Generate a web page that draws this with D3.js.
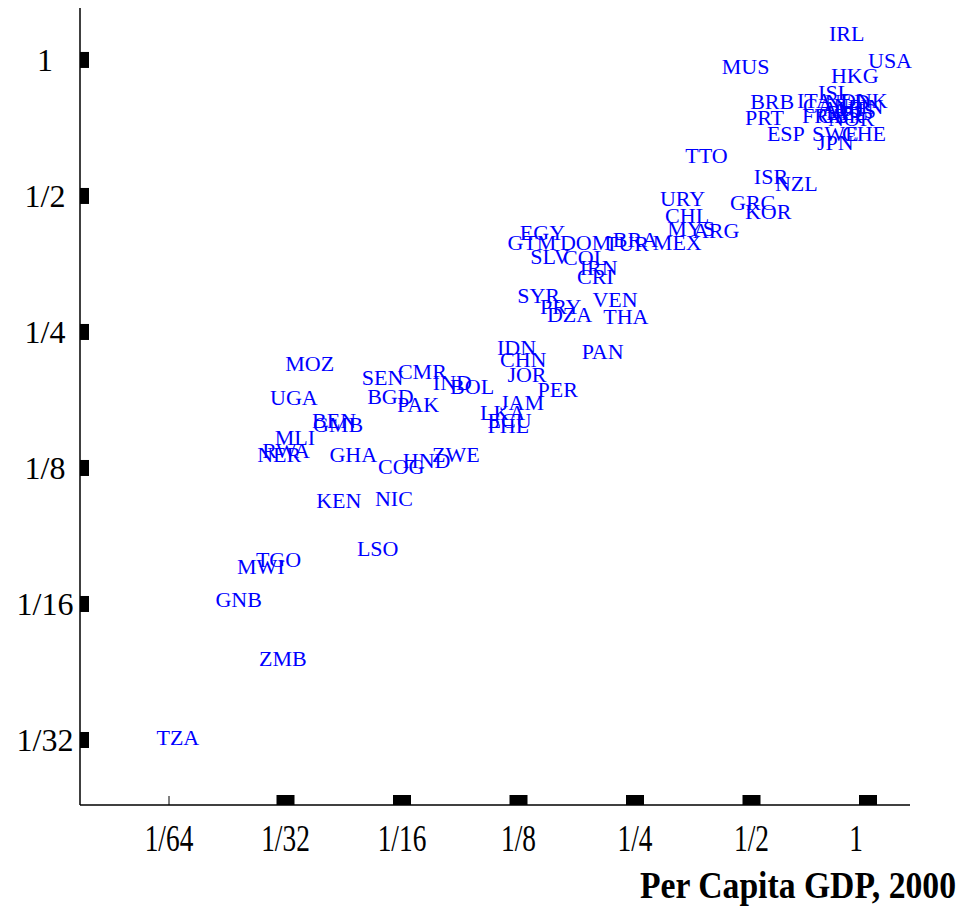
<!DOCTYPE html>
<html lang="en">
<head>
<meta charset="utf-8">
<title>Per Capita GDP, 2000</title>
<script src="https://d3js.org/d3.v7.min.js"></script>
<style>
  body { margin: 0; background: #fff; }
  .country { font-family: "Liberation Serif", "Times New Roman", serif; font-size: 22px; fill: #0000ff; }
  .ticklab { font-family: "Liberation Serif", "Times New Roman", serif; font-size: 32px; fill: #000; }
  .xlab { font-family: "Liberation Serif", "Times New Roman", serif; font-size: 38px; fill: #000; }
  .title { font-family: "Liberation Serif", "Times New Roman", serif; font-size: 38px; font-weight: bold; fill: #000; }
</style>
</head>
<body>
<script>
// country codes, per capita GDP 2000 (relative to US) and the vertical value
const codes = ["IRL","USA","HKG","MUS","BRB","ITA","ISL","CAN","NLD","DNK","AUS","AUT","BEL","FIN","FRA","GBR","NOR","PRT","ESP","SWE","CHE","JPN",
  "TTO","ISR","NZL","GRC","KOR","URY","CHL","MYS","ARG","MEX","BRA","TUR","DOM","EGY","GTM","SLV","COL","IRN","CRI",
  "SYR","PRY","DZA","VEN","THA","PAN","IDN","CHN","JOR","PER","JAM","LKA","ECU","PHL","BOL","IND","CMR","SEN","BGD","PAK",
  "MOZ","UGA","BEN","GMB","MLI","RWA","NER","GHA","HND","COG","ZWE","KEN","NIC","LSO","TGO","MWI","GNB","ZMB","TZA"];
const gdp2000 = [0.793,1.0,0.802,0.419,0.496,0.655,0.743,0.679,0.774,0.847,0.807,0.761,0.779,0.888,0.675,0.743,0.788,0.481,0.548,0.717,0.857,0.738,
  0.337,0.507,0.575,0.440,0.481,0.290,0.299,0.303,0.353,0.278,0.219,0.209,0.160,0.126,0.117,0.134,0.163,0.180,0.177,
  0.124,0.142,0.148,0.194,0.207,0.182,0.110,0.112,0.117,0.140,0.112,0.0994,0.104,0.104,0.0832,0.0751,0.0610,0.0492,0.0508,0.0607,
  0.0312,0.0285,0.0366,0.0368,0.0293,0.0272,0.0264,0.0406,0.0628,0.0542,0.0747,0.0375,0.0532,0.0478,0.0262,0.0234,0.0206,0.0267,0.0145];
const yValue = [1.148,1.0,0.926,0.970,0.811,0.816,0.850,0.795,0.811,0.816,0.775,0.783,0.767,0.791,0.756,0.756,0.744,0.748,0.689,0.689,0.689,0.658,
  0.616,0.553,0.534,0.485,0.463,0.495,0.454,0.423,0.420,0.395,0.400,0.392,0.394,0.416,0.394,0.368,0.365,0.347,0.332,
  0.302,0.285,0.273,0.296,0.271,0.227,0.231,0.217,0.202,0.187,0.175,0.166,0.159,0.155,0.190,0.193,0.205,0.198,0.180,0.173,
  0.213,0.179,0.159,0.156,0.146,0.137,0.134,0.134,0.130,0.126,0.134,0.106,0.107,0.0832,0.0786,0.0758,0.0640,0.0475,0.0317];

const xTicks = [1/64, 1/32, 1/16, 1/8, 1/4, 1/2, 1];
const xTickLabels = ["1/64","1/32","1/16","1/8","1/4","1/2","1"];
const yTicks = [1/32, 1/16, 1/8, 1/4, 1/2, 1];
const yTickLabels = ["1/32","1/16","1/8","1/4","1/2","1"];

const width = 965, height = 911;
const plotLeft = 80, plotRight = 910, plotTop = 8, plotBottom = 805;

const x = d3.scaleLog().base(2)
  .domain([Math.pow(2, -6.764), Math.pow(2, 0.3605)])
  .range([plotLeft, plotRight]);
const y = d3.scaleLog().base(2)
  .domain([Math.pow(2, -5.478), Math.pow(2, 0.382)])
  .range([plotBottom, plotTop]);

const svg = d3.select("body").append("svg")
  .attr("width", width)
  .attr("height", height);

// axis lines
svg.append("line").attr("x1", plotLeft).attr("x2", plotLeft).attr("y1", plotTop).attr("y2", plotBottom)
  .attr("stroke", "#000").attr("stroke-width", 1.5);
svg.append("line").attr("x1", plotLeft).attr("x2", plotRight).attr("y1", plotBottom).attr("y2", plotBottom)
  .attr("stroke", "#000").attr("stroke-width", 1.5);

// x ticks: thin tick at 1/64, thick blocks for the rest
svg.selectAll("rect.xt")
  .data(xTicks.slice(1))
  .enter().append("rect")
  .attr("class", "xt")
  .attr("x", d => x(d) - 9)
  .attr("y", plotBottom - 10)
  .attr("width", 18)
  .attr("height", 10)
  .attr("fill", "#000");
svg.append("line")
  .attr("x1", x(xTicks[0])).attr("x2", x(xTicks[0]))
  .attr("y1", plotBottom - 9).attr("y2", plotBottom)
  .attr("stroke", "#000").attr("stroke-width", 1);

// tick label for "1" sits a little left of its tick in the original
svg.selectAll("text.xlab")
  .data(xTicks)
  .enter().append("text")
  .attr("class", "xlab")
  .attr("text-anchor", "middle")
  .attr("transform", d => "translate(" + (x(d) - (d === 1 ? 12 : 0)) + "," + 851 + ") scale(0.72,1)")
  .text((d, i) => xTickLabels[i]);

// y ticks
svg.selectAll("rect.yt")
  .data(yTicks)
  .enter().append("rect")
  .attr("class", "yt")
  .attr("x", plotLeft)
  .attr("y", d => y(d) - 8)
  .attr("width", 9)
  .attr("height", 16)
  .attr("fill", "#000");

svg.selectAll("text.ylab")
  .data(yTicks)
  .enter().append("text")
  .attr("class", "ticklab")
  .attr("x", 45)
  .attr("y", d => y(d))
  .attr("dy", "0.35em")
  .attr("text-anchor", "middle")
  .text((d, i) => yTickLabels[i]);

// country labels, left-aligned at the point
svg.selectAll("text.country")
  .data(codes)
  .enter().append("text")
  .attr("class", "country")
  .attr("x", (d, i) => x(gdp2000[i]))
  .attr("y", (d, i) => y(yValue[i]))
  .attr("dy", "0.35em")
  .text(d => d);

// axis title
svg.append("text")
  .attr("class", "title")
  .attr("x", 640)
  .attr("y", 898)
  .attr("textLength", 316)
  .attr("lengthAdjust", "spacingAndGlyphs")
  .text("Per Capita GDP, 2000");
</script>
</body>
</html>
